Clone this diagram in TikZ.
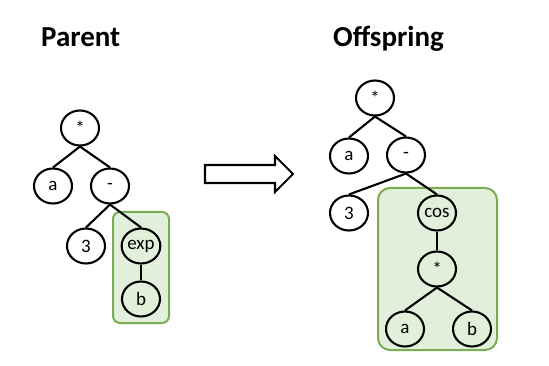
\documentclass[tikz,border=0pt]{standalone}
\usepackage{fontspec}
\setmainfont{Carlito}
\usetikzlibrary{shapes.geometric}
\definecolor{boxfill}{RGB}{226,239,218}
\definecolor{boxline}{RGB}{122,172,84}
\begin{document}
\begin{tikzpicture}[x=1pt,y=-1pt,
  tnode/.style={ellipse,draw=black,line width=2.1pt,minimum width=38pt,minimum height=35pt,inner sep=0pt,font=\fontsize{19}{21}\selectfont},
  edge/.style={line width=2.1pt,black},
  grp/.style={draw=boxline,fill=boxfill,line width=2pt},
  title/.style={anchor=base west,inner sep=0pt,font=\fontsize{29}{32}\selectfont\bfseries}]
\useasboundingbox (0,0) rectangle (549,366);
% titles
\node[title] (tp) at (41,47) {Parent};
\node[title] (to) at (333,47) {Offspring};
% groups
\draw[grp,rounded corners=7pt] (113,212) rectangle (169,323);
\draw[grp,rounded corners=12pt] (378,188) rectangle (497,350);
% parent tree
\node[tnode] (p1) at (80,128) {*};
\node[tnode] (p2) at (53,186) {a};
\node[tnode] (p3) at (110,186) {-};
\node[tnode] (p4) at (86,246) {3};
\node[tnode] (p5) at (141,246) {exp};
\node[tnode] (p6) at (141,299) {b};
\draw[edge] (p1.south) -- (p2.north);
\draw[edge] (p1.south) -- (p3.north);
\draw[edge] (p3.south) -- (p4.north);
\draw[edge] (p3.south) -- (p5.north);
\draw[edge] (p5.south) -- (p6.north);
% arrow
\draw[line width=2.1pt,fill=white] (205,165) -- (275,165) -- (275,156) -- (293,174) -- (275,192) -- (275,183) -- (205,183) -- cycle;
% offspring tree
\node[tnode] (o1) at (375,98) {*};
\node[tnode] (o2) at (349,156) {a};
\node[tnode] (o3) at (406,155) {-};
\node[tnode] (o4) at (349,213) {3};
\node[tnode] (o5) at (437,213) {cos};
\node[tnode] (o6) at (437,269) {*};
\node[tnode] (o7) at (405,329) {a};
\node[tnode] (o8) at (472,329) {b};
\draw[edge] (o1.south) -- (o2.north);
\draw[edge] (o1.south) -- (o3.north);
\draw[edge] (o3.south) -- (o4.north);
\draw[edge] (o3.south) -- (o5.north);
\draw[edge] (o5.south) -- (o6.north);
\draw[edge] (o6.south) -- (o7.north);
\draw[edge] (o6.south) -- (o8.north);
\end{tikzpicture}
\end{document}
